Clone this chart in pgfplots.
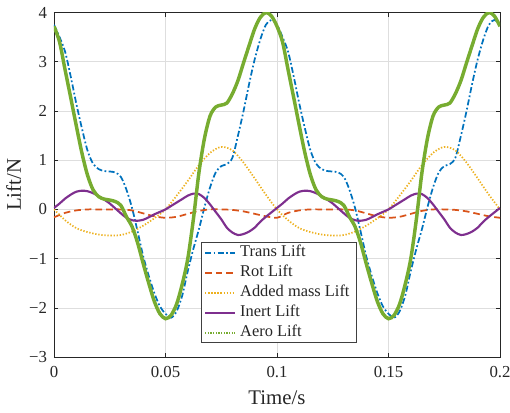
\documentclass[border=0pt]{standalone}
\usepackage{pgfplots}
\pgfplotsset{compat=1.18}
\usepackage{fontspec}
\setmainfont{Liberation Serif}
\definecolor{mblue}{rgb}{0,0.447,0.741}
\definecolor{morange}{rgb}{0.85,0.325,0.098}
\definecolor{myellow}{rgb}{0.929,0.694,0.125}
\definecolor{mpurple}{rgb}{0.494,0.184,0.556}
\definecolor{mgreen}{rgb}{0.466,0.674,0.188}
\definecolor{axgray}{rgb}{0.15,0.15,0.15}
\begin{document}
\begin{tikzpicture}
\path[use as bounding box] (-40.5pt,-41.25pt) rectangle (342pt,267.8pt);
\begin{axis}[
  scale only axis, width=334.5pt, height=258.4pt,
  xmin=0, xmax=0.2, ymin=-3, ymax=4,
  xtick={0,0.05,0.1,0.15,0.2}, xticklabels={0,0.05,0.1,0.15,0.2},
  ytick={-3,-2,-1,0,1,2,3,4}, yticklabels={−3,−2,−1,0,1,2,3,4},
  scaled x ticks=false,
  tick align=inside, major tick length=3pt,
  xtick pos=both, ytick pos=both,
  tick style={axgray, line width=0.5pt},
  axis line style={axgray, line width=0.6pt},
  grid=major, major grid style={black!13, line width=0.5pt},
  ticklabel style={font=\fontsize{12.6}{14}\selectfont, text=axgray},
  yticklabel style={inner sep=0pt, xshift=-5pt},
  xticklabel style={inner sep=0pt, yshift=-7pt},
  xlabel={Time/s}, ylabel={Lift/N},
  label style={font=\fontsize{15.6}{18}\selectfont, text=axgray},
  xlabel style={at={(axis description cs:0.5,-0.139)}, anchor=base},
  ylabel style={at={(axis description cs:-0.074,0.5)}, anchor=base},
  legend cell align=left,
  legend image code/.code={\draw[#1] (0pt,0pt) -- (22.5pt,0pt);},
  legend style={at={(axis description cs:0.3296,0.0406)}, anchor=south west,
    font=\fontsize{12.3}{14}\selectfont, text=axgray, draw=black!75, line width=0.6pt,
    inner xsep=2pt, inner ysep=0pt, row sep=0pt, column sep=0pt,
    nodes={text height=9pt, text depth=3pt, inner ysep=1.5pt, inner xsep=3pt}},
]
% Trans Lift
\addplot[mblue, line width=1.3pt, smooth, dash pattern=on 4.5pt off 1.8pt on 1.3pt off 1.8pt] coordinates {
(0,3.75)(0.0025,3.5)(0.005,3.2)(0.0075,2.7)(0.01,2.15)(0.0125,1.65)(0.015,1.2)(0.0175,0.93)(0.02,0.82)(0.0225,0.78)
(0.025,0.77)(0.0275,0.75)(0.03,0.66)(0.0325,0.4)(0.035,0.03)(0.0375,-0.45)(0.04,-0.95)(0.0425,-1.35)(0.045,-1.7)(0.0475,-1.97)
(0.05,-2.12)(0.0525,-2.2)(0.055,-2.07)(0.0575,-1.75)(0.06,-1.25)(0.0625,-0.8)(0.065,-0.4)(0.0675,0.05)(0.07,0.45)(0.0725,0.75)
(0.075,0.88)(0.0775,0.92)(0.08,1.05)(0.0825,1.5)(0.085,2.0)(0.0875,2.55)(0.09,3.05)(0.0925,3.45)(0.095,3.75)(0.0975,3.85)
(0.1,3.75)(0.1025,3.5)(0.105,3.2)(0.1075,2.7)(0.11,2.15)(0.1125,1.65)(0.115,1.2)(0.1175,0.93)(0.12,0.82)(0.1225,0.78)
(0.125,0.77)(0.1275,0.75)(0.13,0.66)(0.1325,0.4)(0.135,0.03)(0.1375,-0.45)(0.14,-0.95)(0.1425,-1.35)(0.145,-1.7)(0.1475,-1.97)
(0.15,-2.12)(0.1525,-2.2)(0.155,-2.07)(0.1575,-1.75)(0.16,-1.25)(0.1625,-0.8)(0.165,-0.4)(0.1675,0.05)(0.17,0.45)(0.1725,0.75)
(0.175,0.88)(0.1775,0.92)(0.18,1.05)(0.1825,1.5)(0.185,2.0)(0.1875,2.55)(0.19,3.05)(0.1925,3.45)(0.195,3.75)(0.1975,3.85)
(0.2,3.75)};
\addlegendentry{Trans Lift}
% Rot Lift
\addplot[morange, line width=1.3pt, smooth, dash pattern=on 5pt off 3pt] coordinates {
(0,-0.16)(0.005,-0.07)(0.01,-0.02)(0.015,0.0)(0.02,0.0)(0.025,0.0)(0.03,0.0)(0.035,-0.02)(0.04,-0.08)(0.045,-0.14)
(0.05,-0.17)(0.055,-0.15)(0.06,-0.09)(0.065,-0.03)(0.07,0.0)(0.075,0.0)(0.08,-0.01)(0.085,-0.04)(0.09,-0.09)(0.095,-0.14)
(0.1,-0.17)(0.105,-0.07)(0.11,-0.02)(0.115,0.0)(0.12,0.0)(0.125,0.0)(0.13,0.0)(0.135,-0.02)(0.14,-0.08)(0.145,-0.14)
(0.15,-0.17)(0.155,-0.15)(0.16,-0.09)(0.165,-0.03)(0.17,0.0)(0.175,0.0)(0.18,-0.01)(0.185,-0.04)(0.19,-0.09)(0.195,-0.14)
(0.2,-0.17)};
\addlegendentry{Rot Lift}
% Added mass Lift
\addplot[myellow, line width=1.3pt, smooth, dash pattern=on 1pt off 1.3pt] coordinates {
(0,0.0)(0.005,-0.22)(0.01,-0.38)(0.015,-0.46)(0.02,-0.51)(0.025,-0.53)(0.03,-0.52)(0.035,-0.45)(0.04,-0.33)(0.045,-0.18)
(0.05,0.0)(0.055,0.28)(0.06,0.58)(0.065,0.9)(0.07,1.15)(0.075,1.27)(0.08,1.2)(0.085,0.95)(0.09,0.63)(0.095,0.3)
(0.1,0.0)(0.105,-0.22)(0.11,-0.38)(0.115,-0.46)(0.12,-0.51)(0.125,-0.53)(0.13,-0.52)(0.135,-0.45)(0.14,-0.33)(0.145,-0.18)
(0.15,0.0)(0.155,0.28)(0.16,0.58)(0.165,0.9)(0.17,1.15)(0.175,1.27)(0.18,1.2)(0.185,0.95)(0.19,0.63)(0.195,0.3)
(0.2,0.0)};
\addlegendentry{Added mass Lift}
% Inert Lift
\addplot[mpurple, line width=1.6pt, smooth] coordinates {
(0,0.03)(0.0025,0.12)(0.005,0.22)(0.0075,0.3)(0.01,0.36)(0.0125,0.38)(0.015,0.37)(0.0175,0.33)(0.02,0.27)(0.0225,0.2)
(0.025,0.12)(0.0275,0.02)(0.03,-0.08)(0.0325,-0.17)(0.035,-0.22)(0.0375,-0.23)(0.04,-0.21)(0.0425,-0.16)(0.045,-0.1)(0.0475,-0.05)
(0.05,0.0)(0.0525,0.07)(0.055,0.14)(0.0575,0.21)(0.06,0.28)(0.0625,0.32)(0.065,0.31)(0.0675,0.23)(0.07,0.1)(0.0725,-0.05)
(0.075,-0.2)(0.0775,-0.37)(0.08,-0.47)(0.0825,-0.52)(0.085,-0.5)(0.0875,-0.45)(0.09,-0.37)(0.0925,-0.25)(0.095,-0.15)(0.0975,-0.06)
(0.1,0.03)(0.1025,0.12)(0.105,0.22)(0.1075,0.3)(0.11,0.36)(0.1125,0.38)(0.115,0.37)(0.1175,0.33)(0.12,0.27)(0.1225,0.2)
(0.125,0.12)(0.1275,0.02)(0.13,-0.08)(0.1325,-0.17)(0.135,-0.22)(0.1375,-0.23)(0.14,-0.21)(0.1425,-0.16)(0.145,-0.1)(0.1475,-0.05)
(0.15,0.0)(0.1525,0.07)(0.155,0.14)(0.1575,0.21)(0.16,0.28)(0.1625,0.32)(0.165,0.31)(0.1675,0.23)(0.17,0.1)(0.1725,-0.05)
(0.175,-0.2)(0.1775,-0.37)(0.18,-0.47)(0.1825,-0.52)(0.185,-0.5)(0.1875,-0.45)(0.19,-0.37)(0.1925,-0.25)(0.195,-0.15)(0.1975,-0.06)
(0.2,0.03)};
\addlegendentry{Inert Lift}
% Aero Lift
\addplot[mgreen, line width=2.6pt, smooth, forget plot] coordinates {
(0,3.72)(0.0025,3.4)(0.005,2.83)(0.0075,2.27)(0.01,1.7)(0.0125,1.15)(0.015,0.7)(0.0175,0.4)(0.02,0.26)(0.0225,0.21)
(0.025,0.19)(0.0275,0.16)(0.03,0.08)(0.0325,-0.15)(0.035,-0.35)(0.0375,-0.68)(0.04,-1.1)(0.0425,-1.5)(0.045,-1.87)(0.0475,-2.12)
(0.05,-2.22)(0.0525,-2.15)(0.055,-1.92)(0.0575,-1.52)(0.06,-1.0)(0.0625,-0.2)(0.065,0.75)(0.0675,1.45)(0.07,1.9)(0.0725,2.08)
(0.075,2.12)(0.0775,2.16)(0.08,2.35)(0.0825,2.62)(0.085,2.98)(0.0875,3.33)(0.09,3.67)(0.0925,3.9)(0.095,4.0)(0.0975,3.93)
(0.1,3.72)(0.1025,3.4)(0.105,2.83)(0.1075,2.27)(0.11,1.7)(0.1125,1.15)(0.115,0.7)(0.1175,0.4)(0.12,0.26)(0.1225,0.21)
(0.125,0.19)(0.1275,0.16)(0.13,0.08)(0.1325,-0.15)(0.135,-0.35)(0.1375,-0.68)(0.14,-1.1)(0.1425,-1.5)(0.145,-1.87)(0.1475,-2.12)
(0.15,-2.22)(0.1525,-2.15)(0.155,-1.92)(0.1575,-1.52)(0.16,-1.0)(0.1625,-0.2)(0.165,0.75)(0.1675,1.45)(0.17,1.9)(0.1725,2.08)
(0.175,2.12)(0.1775,2.16)(0.18,2.35)(0.1825,2.62)(0.185,2.98)(0.1875,3.33)(0.19,3.67)(0.1925,3.9)(0.195,4.0)(0.1975,3.93)
(0.2,3.72)};
\addlegendimage{mgreen, line width=1.3pt, dash pattern=on 1pt off 1pt}
\addlegendentry{Aero Lift}
\end{axis}
\end{tikzpicture}
\end{document}
